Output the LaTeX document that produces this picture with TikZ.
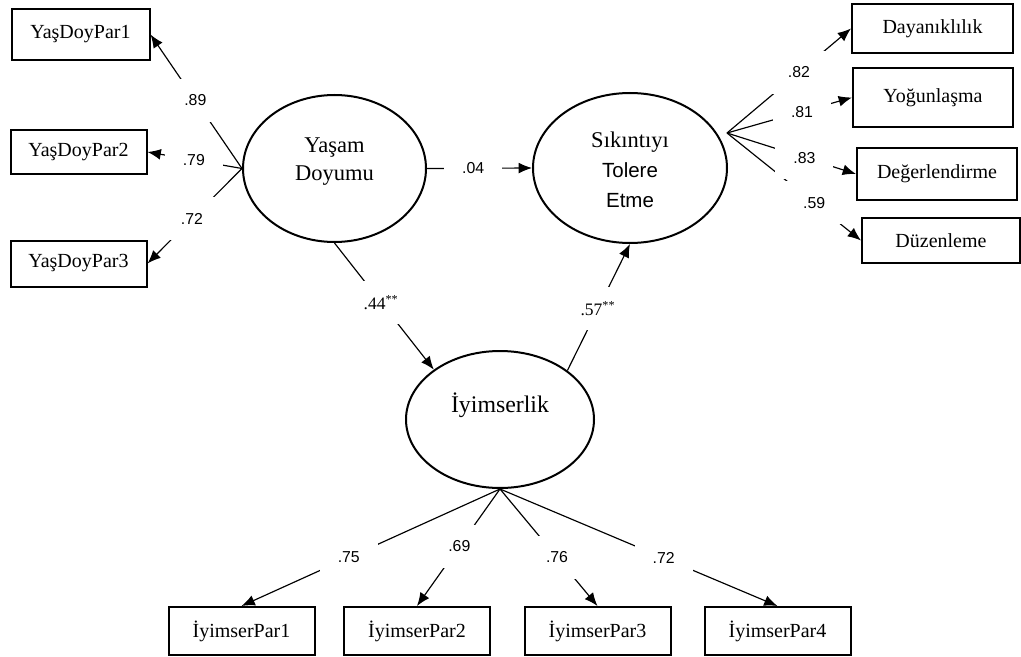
\documentclass[tikz,border=0pt]{standalone}
\usepackage{fontspec}
\setmainfont{Liberation Serif}
\setsansfont{Liberation Sans}
\usepackage{tikz}
\usetikzlibrary{arrows.meta,shapes}
\newcommand{\thickl}{1.2pt}
\newcommand{\thinl}{0.7pt}
\newcommand{\sanstxt}{\sffamily\fontsize{12.3}{18}\selectfont}

\begin{document}
\begin{tikzpicture}[x=0.6pt,y=-0.6pt,
        latent/.style={draw, ellipse, line width=\thickl, inner sep=0pt},
        lvtext/.style={align=center, font=\fontsize{13.5}{17}\selectfont},
        obs/.style={draw, line width=\thickl, inner sep=0pt, font=\fontsize{12}{14}\selectfont},
        loading/.style={line width=\thinl, -{Latex[length=8pt,width=6.5pt]}},
        coef/.style={fill=white, inner sep=0pt, minimum width=34.8pt, minimum height=25.8pt,
            font=\sffamily\fontsize{9.5}{11}\selectfont},
        coefs/.style={coef, font=\fontsize{10.5}{12}\selectfont}]
        \begin{scope}
        %\draw[help lines] (0,0) grid (1021,657);
            \useasboundingbox (0,0) rectangle (1021,657);
            % latent variables
            \node[latent, minimum width=109.8pt, minimum height=88.2pt] (yd) at (334.5,168.5) {};
            \node[lvtext] (ydtext) at ([yshift=4.2pt]yd.center) {Yaşam\\Doyumu};
            \node[latent, minimum width=116.4pt, minimum height=90pt] (st) at (630,168) {};
            \node[lvtext, font=\fontsize{13.5}{18}\selectfont] (sttext) at ([yshift=-1pt]st.center)
                {Sıkıntıyı\\{\sanstxt Tolere}\\{\sanstxt Etme}};
            \node[latent, minimum width=112.8pt, minimum height=82.2pt] (iy) at (500,419.5) {};
            \node[lvtext, font=\fontsize{14.3}{17}\selectfont] (iytext) at ([yshift=8.7pt]iy.center) {İyimserlik};

            % observed variables
            \node[obs, minimum width=82.8pt, minimum height=30.6pt] (ydp1) at (80.5,34.5) {YaşDoyPar1};
            \node[obs, minimum width=81.6pt, minimum height=26.4pt] (ydp2) at (78.5,152) {YaşDoyPar2};
            \node[obs, minimum width=81.6pt, minimum height=27.6pt] (ydp3) at (78.5,263.5) {YaşDoyPar3};

            \node[obs, minimum width=96.6pt, minimum height=29.4pt] (day) at (932.5,28.5) {Dayanıklılık};
            \node[obs, minimum width=96pt, minimum height=35.4pt] (yog) at (933,97.5) {Yoğunlaşma};
            \node[obs, minimum width=96pt, minimum height=31.2pt] (deg) at (937,174) {Değerlendirme};
            \node[obs, minimum width=94.8pt, minimum height=27pt] (duz) at (941,240.5) {Düzenleme};

            \node[obs, minimum width=87.6pt, minimum height=28.8pt] (ip1) at (241.5,631) {İyimserPar1};
            \node[obs, minimum width=87.6pt, minimum height=28.8pt] (ip2) at (417,631) {İyimserPar2};
            \node[obs, minimum width=87.6pt, minimum height=28.8pt] (ip3) at (597.5,631) {İyimserPar3};
            \node[obs, minimum width=87.6pt, minimum height=28.8pt] (ip4) at (777.5,631) {İyimserPar4};

            % loadings
            \draw[loading] (yd.west) -- node[coef, pos=.51] (c79) {.79} (ydp2.east);
            \draw[loading] (yd.west) -- node[coef, pos=.51] (c89) {.89} (ydp1.east);
            \draw[loading] (yd.west) -- node[coef, pos=.53] (c72a) {.72} (ydp3.east);

            \coordinate (stfan) at (727,133);
            \draw[loading] (stfan) -- node[coef, pos=.65] (c59) {.59} (duz.west);
            \draw[loading] (stfan) -- node[coef, pos=.6] (c83) {.83} (deg.west);
            \draw[loading] (stfan) -- node[coef, pos=.6] (c81) {.81} (yog.west);
            \draw[loading] (stfan) -- node[coef, pos=.58] (c82) {.82} (day.west);

            \draw[loading] (iy.south) -- node[coef, pos=.585] (c75) {.75} (ip1.north);
            \draw[loading] (iy.south) -- node[coef, pos=.49] (c69) {.69} (ip2.north);
            \draw[loading] (iy.south) -- node[coef, pos=.585] (c76) {.76} (ip3.north);
            \draw[loading] (iy.south) -- node[coef, pos=.59] (c72b) {.72} (ip4.north);

            % structural paths
            \draw[loading] (yd.east) -- node[coef, pos=.44] (c04) {.04} (st.west);
            \draw[loading] (yd.south) -- node[coefs, pos=.47] (c44) {.44\textsuperscript{**}} (iy.143);
            \draw[loading] (iy.36) -- node[coefs, pos=.49] (c57) {.57\textsuperscript{**}} (st.south);
        \end{scope}
    \end{tikzpicture}
\end{document}
